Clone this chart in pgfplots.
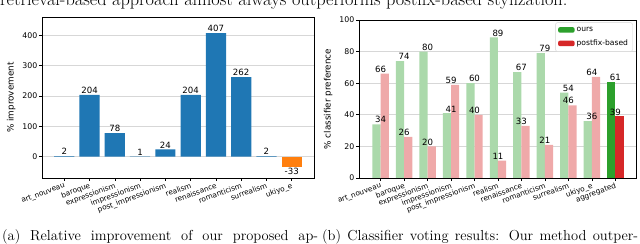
\documentclass[border=0pt]{standalone}
\usepackage{fontspec}
\usepackage{pgfplots}
\pgfplotsset{compat=1.18}
\newfontfamily\dejavu{DejaVu Sans}
\definecolor{mblue}{RGB}{31,119,180}
\definecolor{morange}{RGB}{255,127,14}
\definecolor{mgreen}{RGB}{44,160,44}
\definecolor{mred}{RGB}{214,39,40}
\definecolor{lgreen}{RGB}{171,217,171}
\definecolor{lred}{RGB}{239,169,169}
\definecolor{gridgray}{RGB}{215,215,215}
\pgfplotsset{
  mystyle/.style={
    scale only axis,
    axis line style={black, line width=0.6bp},
    tick align=outside,
    major tick length=3bp,
    tick style={black, line width=0.6bp},
    tick pos=left,
    ymajorgrids,
    grid style={gridgray, line width=0.6bp},
    /pgf/number format/assume math mode=true,
    ticklabel style={font=\dejavu\fontsize{7.8bp}{9bp}\selectfont},
    yticklabel style={inner sep=1.5bp},
    xticklabel style={rotate=20, anchor=north east, inner sep=1bp, font=\dejavu\fontsize{7.3bp}{8bp}\selectfont},
    label style={font=\dejavu\fontsize{8.8bp}{10bp}\selectfont},
    nodes near coords style={font=\dejavu\fontsize{8.6bp}{10bp}\selectfont, inner sep=1bp},
  }
}
\begin{document}
\begin{tikzpicture}
\useasboundingbox (0,0) rectangle (640bp,244bp);
\clip (0,0) rectangle (640bp,244bp);
% left axis
\begin{axis}[mystyle,
  at={(42bp,66bp)}, anchor=south west,
  width=272bp, height=161bp,
  xmin=-0.88, xmax=9.88, ymin=-70, ymax=460,
  xtick={0,1,2,3,4,5,6,7,8,9},
  xticklabels={art\_nouveau,baroque,expressionism,impressionism,post\_impressionism,realism,renaissance,romanticism,surrealism,ukiyo\_e},
  ytick={0,100,200,300,400},
  ylabel={\% improvement},
  ylabel style={at={(ticklabel cs:0.5)}, yshift=2bp},
]
\addplot[ybar, bar width=0.8, bar shift=0, fill=mblue, draw=none, nodes near coords] coordinates {
 (0,2) (1,204) (2,78) (3,1) (4,24) (5,204) (6,407) (7,262) (8,2)};
\addplot[ybar, bar width=0.8, bar shift=0, fill=morange, draw=none, nodes near coords,
  every node near coord/.append style={anchor=north}] coordinates {
 (9,-33)};
\end{axis}
% right axis
\begin{axis}[mystyle,
  at={(359bp,66bp)}, anchor=south west,
  width=277bp, height=158bp,
  xmin=-0.92, xmax=10.88, ymin=0, ymax=100,
  xtick={0,1,2,3,4,5,6,7,8,9,10},
  xticklabels={art\_nouveau,baroque,expressionism,impressionism,post\_impressionism,realism,renaissance,romanticism,surrealism,ukiyo\_e,aggregated},
  ytick={0,20,40,60,80,100},
  ylabel={\% classifier preference},
  ylabel style={at={(ticklabel cs:0.5)}, yshift=2bp},
  legend cell align=left,
  legend image code/.code={\fill[#1] (0bp,-2.8bp) rectangle (16.5bp,2.8bp);},
  legend style={at={(rel axis cs:0.988,0.985)}, anchor=north east,
    draw=gray!35, rounded corners=2bp, fill=white,
    font=\dejavu\fontsize{7.6bp}{8bp}\selectfont,
    inner xsep=2.5bp, inner ysep=2.5bp, row sep=3bp},
]
\addplot[ybar, bar width=0.35, bar shift=-0.175, fill=lgreen, draw=none, nodes near coords, forget plot] coordinates {
 (0,34) (1,74) (2,80) (3,41) (4,60) (5,89) (6,67) (7,79) (8,54) (9,36)};
\addplot[ybar, bar width=0.35, bar shift=0.175, fill=lred, draw=none, nodes near coords, forget plot] coordinates {
 (0,66) (1,26) (2,20) (3,59) (4,40) (5,11) (6,33) (7,21) (8,46) (9,64)};
\addplot[ybar, bar width=0.35, bar shift=-0.175, fill=mgreen, draw=none, nodes near coords] coordinates {(10,61)};
\addplot[ybar, bar width=0.35, bar shift=0.175, fill=mred, draw=none, nodes near coords] coordinates {(10,39)};
\legend{ours,postfix-based}
\end{axis}
% text of the page around the figure
\node[anchor=base west, inner sep=0] at (0bp,238.5bp) {\fontsize{18.3bp}{21bp}\selectfont retrieval-based approach almost always outperforms postfix-based stylization.};
\node[anchor=base west, inner sep=0] at (2bp,4bp) {\fontsize{14.5bp}{17bp}\selectfont\hbox to 316bp{(a) Relative improvement of our proposed ap-}};
\node[anchor=base west, inner sep=0] at (322bp,4bp) {\fontsize{14.5bp}{17bp}\selectfont\hbox to 316bp{(b) Classifier voting results: Our method outper-}};
\end{tikzpicture}
\end{document}
